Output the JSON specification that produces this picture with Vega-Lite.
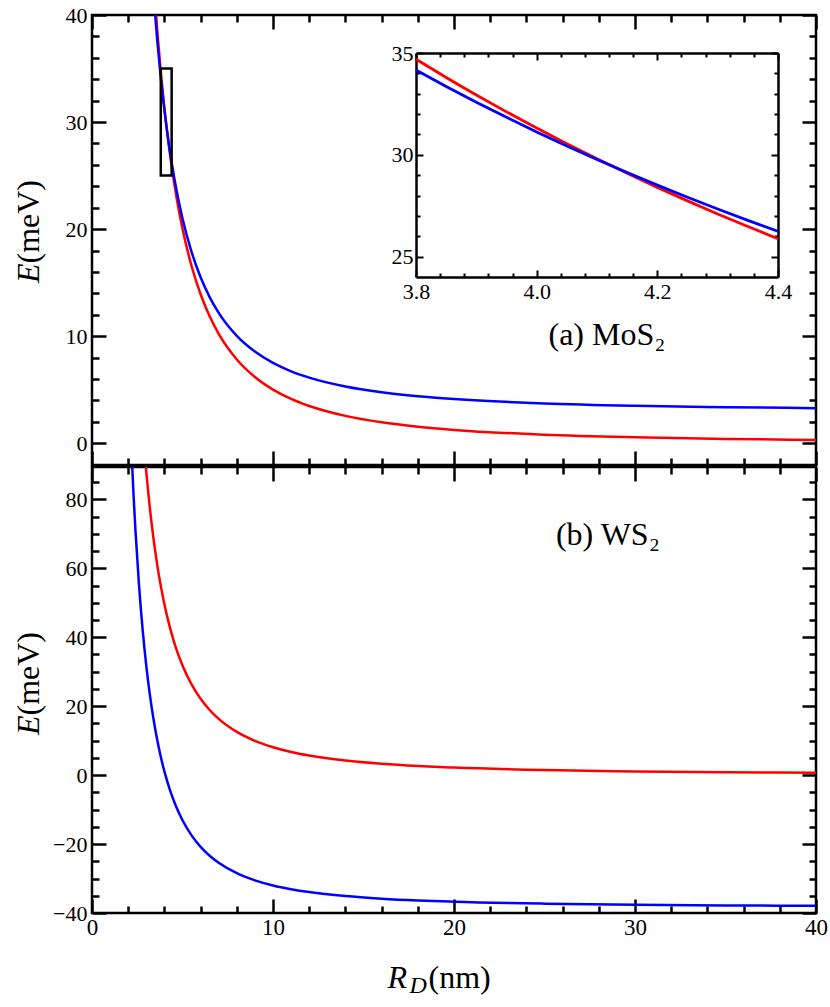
{
  "$schema": "https://vega.github.io/schema/vega-lite/v6.json",
  "padding": {"left": 10, "top": 2, "right": 5, "bottom": 5},
  "spacing": 2,
  "bounds": "flush",
  "datasets": {
    "top": [
      {"R": 3.4, "E": 43.34, "s": "red"}, {"R": 3.6, "E": 38.66, "s": "red"}, {"R": 3.8, "E": 34.70, "s": "red"},
      {"R": 4.0, "E": 31.31, "s": "red"}, {"R": 4.2, "E": 28.40, "s": "red"}, {"R": 4.4, "E": 25.88, "s": "red"},
      {"R": 4.7, "E": 22.68, "s": "red"}, {"R": 5, "E": 20.04, "s": "red"}, {"R": 5.5, "E": 16.56, "s": "red"},
      {"R": 6, "E": 13.92, "s": "red"}, {"R": 6.5, "E": 11.86, "s": "red"}, {"R": 7, "E": 10.22, "s": "red"},
      {"R": 8, "E": 7.83, "s": "red"}, {"R": 9, "E": 6.19, "s": "red"}, {"R": 10, "E": 5.01, "s": "red"},
      {"R": 11, "E": 4.14, "s": "red"}, {"R": 12, "E": 3.48, "s": "red"}, {"R": 14, "E": 2.56, "s": "red"},
      {"R": 16, "E": 1.96, "s": "red"}, {"R": 18, "E": 1.55, "s": "red"}, {"R": 20, "E": 1.25, "s": "red"},
      {"R": 25, "E": 0.80, "s": "red"}, {"R": 30, "E": 0.56, "s": "red"}, {"R": 35, "E": 0.41, "s": "red"},
      {"R": 40, "E": 0.31, "s": "red"},
      {"R": 3.4, "E": 41.93, "s": "blue"}, {"R": 3.6, "E": 37.72, "s": "blue"}, {"R": 3.8, "E": 34.16, "s": "blue"},
      {"R": 4.0, "E": 31.13, "s": "blue"}, {"R": 4.2, "E": 28.51, "s": "blue"}, {"R": 4.4, "E": 26.24, "s": "blue"},
      {"R": 4.7, "E": 23.37, "s": "blue"}, {"R": 5, "E": 21.00, "s": "blue"}, {"R": 5.5, "E": 17.88, "s": "blue"},
      {"R": 6, "E": 15.50, "s": "blue"}, {"R": 6.5, "E": 13.65, "s": "blue"}, {"R": 7, "E": 12.18, "s": "blue"},
      {"R": 8, "E": 10.03, "s": "blue"}, {"R": 9, "E": 8.56, "s": "blue"}, {"R": 10, "E": 7.50, "s": "blue"},
      {"R": 11, "E": 6.72, "s": "blue"}, {"R": 12, "E": 6.13, "s": "blue"}, {"R": 14, "E": 5.30, "s": "blue"},
      {"R": 16, "E": 4.76, "s": "blue"}, {"R": 18, "E": 4.39, "s": "blue"}, {"R": 20, "E": 4.13, "s": "blue"},
      {"R": 25, "E": 3.72, "s": "blue"}, {"R": 30, "E": 3.50, "s": "blue"}, {"R": 35, "E": 3.37, "s": "blue"},
      {"R": 40, "E": 3.28, "s": "blue"}
    ],
    "inset": [
      {"R": 3.80, "E": 34.695, "s": "red"}, {"R": 3.85, "E": 33.800, "s": "red"}, {"R": 3.90, "E": 32.939, "s": "red"},
      {"R": 3.95, "E": 32.110, "s": "red"}, {"R": 4.00, "E": 31.313, "s": "red"}, {"R": 4.05, "E": 30.544, "s": "red"},
      {"R": 4.10, "E": 29.804, "s": "red"}, {"R": 4.15, "E": 29.090, "s": "red"}, {"R": 4.20, "E": 28.401, "s": "red"},
      {"R": 4.25, "E": 27.737, "s": "red"}, {"R": 4.30, "E": 27.096, "s": "red"}, {"R": 4.35, "E": 26.476, "s": "red"},
      {"R": 4.40, "E": 25.878, "s": "red"},
      {"R": 3.80, "E": 34.163, "s": "blue"}, {"R": 3.85, "E": 33.359, "s": "blue"}, {"R": 3.90, "E": 32.586, "s": "blue"},
      {"R": 3.95, "E": 31.842, "s": "blue"}, {"R": 4.00, "E": 31.125, "s": "blue"}, {"R": 4.05, "E": 30.435, "s": "blue"},
      {"R": 4.10, "E": 29.770, "s": "blue"}, {"R": 4.15, "E": 29.129, "s": "blue"}, {"R": 4.20, "E": 28.510, "s": "blue"},
      {"R": 4.25, "E": 27.913, "s": "blue"}, {"R": 4.30, "E": 27.337, "s": "blue"}, {"R": 4.35, "E": 26.781, "s": "blue"},
      {"R": 4.40, "E": 26.244, "s": "blue"}
    ],
    "bottom": [
      {"R": 2.9, "E": 94.14, "s": "red"}, {"R": 3.0, "E": 87.98, "s": "red"}, {"R": 3.2, "E": 77.35, "s": "red"},
      {"R": 3.4, "E": 68.54, "s": "red"}, {"R": 3.6, "E": 61.16, "s": "red"}, {"R": 3.8, "E": 54.91, "s": "red"},
      {"R": 4.0, "E": 49.58, "s": "red"}, {"R": 4.3, "E": 42.93, "s": "red"}, {"R": 4.6, "E": 37.53, "s": "red"},
      {"R": 5, "E": 31.80, "s": "red"}, {"R": 5.5, "E": 26.32, "s": "red"}, {"R": 6, "E": 22.14, "s": "red"},
      {"R": 6.5, "E": 18.90, "s": "red"}, {"R": 7, "E": 16.32, "s": "red"}, {"R": 8, "E": 12.54, "s": "red"},
      {"R": 9, "E": 9.95, "s": "red"}, {"R": 10, "E": 8.10, "s": "red"}, {"R": 11, "E": 6.73, "s": "red"},
      {"R": 12, "E": 5.69, "s": "red"}, {"R": 14, "E": 4.23, "s": "red"}, {"R": 16, "E": 3.29, "s": "red"},
      {"R": 18, "E": 2.64, "s": "red"}, {"R": 20, "E": 2.18, "s": "red"}, {"R": 25, "E": 1.46, "s": "red"},
      {"R": 30, "E": 1.08, "s": "red"}, {"R": 35, "E": 0.85, "s": "red"}, {"R": 40, "E": 0.69, "s": "red"},
      {"R": 2.1, "E": 104.56, "s": "blue"}, {"R": 2.2, "E": 91.87, "s": "blue"}, {"R": 2.3, "E": 80.79, "s": "blue"},
      {"R": 2.4, "E": 71.08, "s": "blue"}, {"R": 2.6, "E": 54.90, "s": "blue"}, {"R": 2.8, "E": 42.06, "s": "blue"},
      {"R": 3.0, "E": 31.70, "s": "blue"}, {"R": 3.2, "E": 23.22, "s": "blue"}, {"R": 3.4, "E": 16.20, "s": "blue"},
      {"R": 3.6, "E": 10.31, "s": "blue"}, {"R": 3.8, "E": 5.33, "s": "blue"}, {"R": 4.0, "E": 1.08, "s": "blue"},
      {"R": 4.3, "E": -4.23, "s": "blue"}, {"R": 4.6, "E": -8.53, "s": "blue"}, {"R": 5, "E": -13.10, "s": "blue"},
      {"R": 5.5, "E": -17.47, "s": "blue"}, {"R": 6, "E": -20.80, "s": "blue"}, {"R": 6.5, "E": -23.39, "s": "blue"},
      {"R": 7, "E": -25.44, "s": "blue"}, {"R": 8, "E": -28.46, "s": "blue"}, {"R": 9, "E": -30.52, "s": "blue"},
      {"R": 10, "E": -32.00, "s": "blue"}, {"R": 11, "E": -33.09, "s": "blue"}, {"R": 12, "E": -33.93, "s": "blue"},
      {"R": 14, "E": -35.09, "s": "blue"}, {"R": 16, "E": -35.84, "s": "blue"}, {"R": 18, "E": -36.36, "s": "blue"},
      {"R": 20, "E": -36.73, "s": "blue"}, {"R": 25, "E": -37.29, "s": "blue"}, {"R": 30, "E": -37.60, "s": "blue"},
      {"R": 35, "E": -37.79, "s": "blue"}, {"R": 40, "E": -37.91, "s": "blue"}
    ],
    "labelA": [{"label": "(a) MoS₂"}],
    "labelB": [{"label": "(b) WS₂"}],
    "box": [{"label": "zoom"}]
  },
  "vconcat": [
    {
      "width": 724,
      "height": 450,
      "resolve": {"scale": {"x": "independent", "y": "independent"}, "axis": {"x": "independent", "y": "independent"}},
      "layer": [
        {
          "data": {"name": "top"},
          "mark": {"type": "line", "strokeWidth": 2.5, "clip": true, "interpolate": "monotone"},
          "encoding": {
            "x": {"field": "R", "type": "quantitative", "scale": {"domain": [0, 40], "nice": false, "zero": false},
              "axis": {"orient": "bottom", "values": [0,2,4,6,8,10,12,14,16,18,20,22,24,26,28,30,32,34,36,38,40], "labels": false, "domain": false, "title": null,
                "tickSize": {"condition": {"test": "datum.value % 10 === 0", "value": -14}, "value": -7}}},
            "y": {"field": "E", "type": "quantitative", "scale": {"domain": [-2.03, 40], "nice": false, "zero": false},
              "axis": {"orient": "left", "values": [0,2,4,6,8,10,12,14,16,18,20,22,24,26,28,30,32,34,36,38,40], "domain": false,
                "labelFont": "Liberation Serif", "labelFontSize": 22,
                "labelExpr": "datum.value % 10 === 0 ? datum.label : ''", "labelPadding": 19,
                "tickSize": {"condition": {"test": "datum.value % 10 === 0", "value": -14}, "value": -7},
                "title": "E", "titleFont": "Liberation Serif", "titleFontStyle": "italic", "titleFontSize": 32, "titleFontWeight": "normal", "titleX": -54, "titleY": 248,
                "titleAlign": "right", "titleBaseline": "alphabetic", "titleAngle": -90}},
            "color": {"field": "s", "type": "nominal", "scale": {"domain": ["red", "blue"], "range": ["#ff0000", "#0000ff"]}, "legend": null}
          }
        },
        {
          "data": {"name": "top"},
          "mark": {"type": "point", "opacity": 0, "clip": true},
          "encoding": {
            "x": {"field": "R", "type": "quantitative", "scale": {"domain": [0, 40], "nice": false, "zero": false},
              "axis": {"orient": "top", "values": [0,2,4,6,8,10,12,14,16,18,20,22,24,26,28,30,32,34,36,38,40], "labels": false, "domain": false, "title": null,
                "tickSize": {"condition": {"test": "datum.value % 10 === 0", "value": -14}, "value": -7}}},
            "y": {"field": "E", "type": "quantitative", "scale": {"domain": [-2.03, 40], "nice": false, "zero": false},
              "axis": {"orient": "right", "values": [0,2,4,6,8,10,12,14,16,18,20,22,24,26,28,30,32,34,36,38,40], "labels": false, "domain": false, "title": null,
                "tickSize": {"condition": {"test": "datum.value % 10 === 0", "value": -14}, "value": -7}}}
          }
        },
        {
          "data": {"name": "top"},
          "mark": {"type": "point", "opacity": 0, "clip": true},
          "encoding": {
            "x": {"field": "R", "type": "quantitative", "scale": {"domain": [0, 40], "nice": false, "zero": false}, "axis": null},
            "y": {"field": "E", "type": "quantitative", "scale": {"domain": [-2.03, 40], "nice": false, "zero": false},
              "axis": {"orient": "left", "ticks": false, "labels": false, "domain": false,
                "title": "(meV)", "titleFont": "Liberation Serif", "titleFontSize": 32, "titleFontWeight": "normal", "titleX": -54, "titleY": 248,
                "titleAlign": "left", "titleBaseline": "alphabetic", "titleAngle": -90}}
          }
        },
        {
          "data": {"name": "box"},
          "mark": {"type": "rect", "filled": false, "stroke": "black", "strokeWidth": 2.5},
          "encoding": {
            "x": {"datum": 3.8, "type": "quantitative", "scale": {"domain": [0, 40], "nice": false, "zero": false}, "axis": null},
            "x2": {"datum": 4.4},
            "y": {"datum": 25, "type": "quantitative", "scale": {"domain": [-2.03, 40], "nice": false, "zero": false}, "axis": null},
            "y2": {"datum": 35}
          }
        },
        {
          "data": {"name": "labelA"},
          "mark": {"type": "text", "font": "Liberation Serif", "fontSize": 32, "align": "center", "baseline": "alphabetic", "color": "black"},
          "encoding": {
            "x": {"datum": 28.45, "type": "quantitative", "scale": {"domain": [0, 40], "nice": false, "zero": false}, "axis": null},
            "y": {"datum": 9.2, "type": "quantitative", "scale": {"domain": [-2.03, 40], "nice": false, "zero": false}, "axis": null},
            "text": {"field": "label"}
          }
        },
        {
          "data": {"name": "inset"},
          "mark": {"type": "line", "strokeWidth": 2.8, "interpolate": "monotone"},
          "encoding": {
            "x": {"field": "R", "type": "quantitative", "scale": {"domain": [3.8, 4.4], "range": [324, 686], "nice": false, "zero": false},
              "axis": {"orient": "bottom", "offset": -188, "values": [3.8,3.84,3.88,3.92,3.96,4.0,4.04,4.08,4.12,4.16,4.2,4.24,4.28,4.32,4.36,4.4],
                "labelFont": "Liberation Serif", "labelFontSize": 22,
                "labelExpr": "abs(datum.value * 5 - round(datum.value * 5)) < 0.001 ? format(datum.value, '.1f') : ''",
                "labelPadding": 11, "domain": true, "domainWidth": 2.5, "domainColor": "black", "tickWidth": 2, "title": null,
                "tickSize": {"condition": {"test": "abs(datum.value * 5 - round(datum.value * 5)) < 0.001", "value": -7}, "value": -4}}},
            "y": {"field": "E", "type": "quantitative", "scale": {"domain": [24, 35], "range": [262, 38], "nice": false, "zero": false},
              "axis": {"orient": "left", "offset": -324, "values": [25,26,27,28,29,30,31,32,33,34,35],
                "labelFont": "Liberation Serif", "labelFontSize": 22,
                "labelExpr": "datum.value % 5 === 0 ? datum.label : ''",
                "labelPadding": 10, "domain": true, "domainWidth": 2.5, "domainColor": "black", "tickWidth": 2, "title": null,
                "tickSize": {"condition": {"test": "datum.value % 5 === 0", "value": -7}, "value": -4}}},
            "color": {"field": "s", "type": "nominal", "scale": {"domain": ["red", "blue"], "range": ["#ff0000", "#0000ff"]}, "legend": null}
          }
        },
        {
          "data": {"name": "inset"},
          "mark": {"type": "point", "opacity": 0, "clip": true},
          "encoding": {
            "x": {"field": "R", "type": "quantitative", "scale": {"domain": [3.8, 4.4], "range": [324, 686], "nice": false, "zero": false},
              "axis": {"orient": "top", "offset": -38, "values": [3.8,3.84,3.88,3.92,3.96,4.0,4.04,4.08,4.12,4.16,4.2,4.24,4.28,4.32,4.36,4.4],
                "labels": false, "domain": true, "domainWidth": 2.5, "domainColor": "black", "tickWidth": 2, "title": null,
                "tickSize": {"condition": {"test": "abs(datum.value * 5 - round(datum.value * 5)) < 0.001", "value": -7}, "value": -4}}},
            "y": {"field": "E", "type": "quantitative", "scale": {"domain": [24, 35], "range": [262, 38], "nice": false, "zero": false},
              "axis": {"orient": "right", "offset": -38, "values": [25,26,27,28,29,30,31,32,33,34,35],
                "labels": false, "domain": true, "domainWidth": 2.5, "domainColor": "black", "tickWidth": 2, "title": null,
                "tickSize": {"condition": {"test": "datum.value % 5 === 0", "value": -7}, "value": -4}}}
          }
        }
      ]
    },
    {
      "width": 724,
      "height": 446,
      "resolve": {"scale": {"x": "independent", "y": "independent"}, "axis": {"x": "independent", "y": "independent"}},
      "layer": [
        {
          "data": {"name": "bottom"},
          "mark": {"type": "line", "strokeWidth": 2.5, "clip": true, "interpolate": "monotone"},
          "encoding": {
            "x": {"field": "R", "type": "quantitative", "scale": {"domain": [0, 40], "nice": false, "zero": false},
              "axis": {"orient": "bottom", "values": [0,2,4,6,8,10,12,14,16,18,20,22,24,26,28,30,32,34,36,38,40], "domain": false,
                "labelFont": "Liberation Serif", "labelFontSize": 23,
                "labelExpr": "datum.value % 10 === 0 ? datum.label : ''", "labelPadding": 17,
                "tickSize": {"condition": {"test": "datum.value % 10 === 0", "value": -14}, "value": -7},
                "title": "R", "titleFont": "Liberation Serif", "titleFontStyle": "italic", "titleFontSize": 32, "titleFontWeight": "normal", "titleX": 295, "titleY": 74,
                "titleAlign": "left", "titleBaseline": "alphabetic", "titleAngle": 0}},
            "y": {"field": "E", "type": "quantitative", "scale": {"domain": [-40, 89.4], "nice": false, "zero": false},
              "axis": {"orient": "left", "values": [-40,-35,-30,-25,-20,-15,-10,-5,0,5,10,15,20,25,30,35,40,45,50,55,60,65,70,75,80,85], "domain": false,
                "labelFont": "Liberation Serif", "labelFontSize": 22,
                "labelExpr": "datum.value % 20 === 0 ? datum.label : ''", "labelPadding": 19,
                "tickSize": {"condition": {"test": "datum.value % 20 === 0", "value": -14}, "value": -7},
                "title": "E", "titleFont": "Liberation Serif", "titleFontStyle": "italic", "titleFontSize": 32, "titleFontWeight": "normal", "titleX": -54, "titleY": 248,
                "titleAlign": "right", "titleBaseline": "alphabetic", "titleAngle": -90}},
            "color": {"field": "s", "type": "nominal", "scale": {"domain": ["red", "blue"], "range": ["#ff0000", "#0000ff"]}, "legend": null}
          }
        },
        {
          "data": {"name": "bottom"},
          "mark": {"type": "point", "opacity": 0, "clip": true},
          "encoding": {
            "x": {"field": "R", "type": "quantitative", "scale": {"domain": [0, 40], "nice": false, "zero": false},
              "axis": {"orient": "top", "values": [0,2,4,6,8,10,12,14,16,18,20,22,24,26,28,30,32,34,36,38,40], "labels": false, "domain": false, "title": null,
                "tickSize": {"condition": {"test": "datum.value % 10 === 0", "value": -14}, "value": -7}}},
            "y": {"field": "E", "type": "quantitative", "scale": {"domain": [-40, 89.4], "nice": false, "zero": false},
              "axis": {"orient": "right", "values": [-40,-35,-30,-25,-20,-15,-10,-5,0,5,10,15,20,25,30,35,40,45,50,55,60,65,70,75,80,85], "labels": false, "domain": false, "title": null,
                "tickSize": {"condition": {"test": "datum.value % 20 === 0", "value": -14}, "value": -7}}}
          }
        },
        {
          "data": {"name": "bottom"},
          "mark": {"type": "point", "opacity": 0, "clip": true},
          "encoding": {
            "x": {"field": "R", "type": "quantitative", "scale": {"domain": [0, 40], "nice": false, "zero": false},
              "axis": {"orient": "bottom", "ticks": false, "labels": false, "domain": false,
                "title": "D", "titleFont": "Liberation Serif", "titleFontStyle": "italic", "titleFontSize": 24, "titleFontWeight": "normal", "titleX": 317, "titleY": 79,
                "titleAlign": "left", "titleBaseline": "alphabetic", "titleAngle": 0}},
            "y": {"field": "E", "type": "quantitative", "scale": {"domain": [-40, 89.4], "nice": false, "zero": false},
              "axis": {"orient": "left", "ticks": false, "labels": false, "domain": false,
                "title": "(meV)", "titleFont": "Liberation Serif", "titleFontSize": 32, "titleFontWeight": "normal", "titleX": -54, "titleY": 248,
                "titleAlign": "left", "titleBaseline": "alphabetic", "titleAngle": -90}}
          }
        },
        {
          "data": {"name": "bottom"},
          "mark": {"type": "point", "opacity": 0, "clip": true},
          "encoding": {
            "x": {"field": "R", "type": "quantitative", "scale": {"domain": [0, 40], "nice": false, "zero": false},
              "axis": {"orient": "bottom", "ticks": false, "labels": false, "domain": false,
                "title": "(nm)", "titleFont": "Liberation Serif", "titleFontSize": 32, "titleFontWeight": "normal", "titleX": 336, "titleY": 74,
                "titleAlign": "left", "titleBaseline": "alphabetic", "titleAngle": 0}},
            "y": {"field": "E", "type": "quantitative", "scale": {"domain": [-40, 89.4], "nice": false, "zero": false}, "axis": null}
          }
        },
        {
          "data": {"name": "labelB"},
          "mark": {"type": "text", "font": "Liberation Serif", "fontSize": 32, "align": "center", "baseline": "alphabetic", "color": "black"},
          "encoding": {
            "x": {"datum": 28.5, "type": "quantitative", "scale": {"domain": [0, 40], "nice": false, "zero": false}, "axis": null},
            "y": {"datum": 66.8, "type": "quantitative", "scale": {"domain": [-40, 89.4], "nice": false, "zero": false}, "axis": null},
            "text": {"field": "label"}
          }
        }
      ]
    }
  ],
  "config": {
    "view": {"stroke": "black", "strokeWidth": 2.5},
    "axis": {"grid": false, "labelFont": "Liberation Serif", "titleFont": "Liberation Serif", "labelColor": "black", "titleColor": "black",
      "tickColor": "black", "domainColor": "black", "labelFontSize": 22, "labelFlush": false, "labelOverlap": false, "tickWidth": 2.5},
    "style": {"guide-label": {"font": "Liberation Serif"}, "guide-title": {"font": "Liberation Serif"}},
    "text": {"font": "Liberation Serif"}
  }
}
